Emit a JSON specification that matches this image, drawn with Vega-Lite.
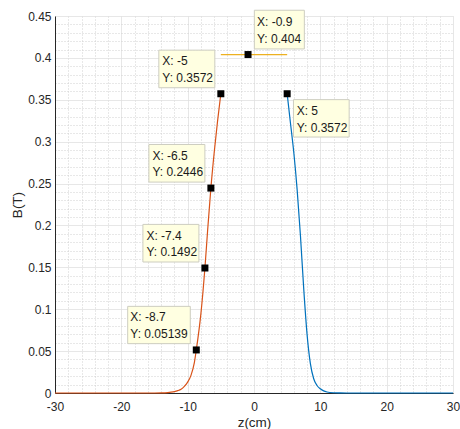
{
  "$schema": "https://vega.github.io/schema/vega-lite/v6.json",
  "width": 398,
  "height": 377,
  "autosize": {"type": "none"},
  "padding": {"left": 55, "top": 16, "right": 7, "bottom": 36},
  "background": "white",
  "config": {"view": {"stroke": null}, "font": "Liberation Sans"},
  "datasets": {
    "curves": [
      {"z": -30, "B": 0, "s": "left"},
      {"z": -15, "B": 0, "s": "left"},
      {"z": -14, "B": 0.0001, "s": "left"},
      {"z": -13, "B": 0.0005, "s": "left"},
      {"z": -12.5, "B": 0.001, "s": "left"},
      {"z": -12, "B": 0.0017, "s": "left"},
      {"z": -11.5, "B": 0.0028, "s": "left"},
      {"z": -11, "B": 0.0045, "s": "left"},
      {"z": -10.5, "B": 0.008, "s": "left"},
      {"z": -10, "B": 0.013, "s": "left"},
      {"z": -9.5, "B": 0.021, "s": "left"},
      {"z": -9, "B": 0.036, "s": "left"},
      {"z": -8.7, "B": 0.05139, "s": "left"},
      {"z": -8, "B": 0.095, "s": "left"},
      {"z": -7.4, "B": 0.1492, "s": "left"},
      {"z": -7, "B": 0.193, "s": "left"},
      {"z": -6.5, "B": 0.2446, "s": "left"},
      {"z": -6, "B": 0.287, "s": "left"},
      {"z": -5.5, "B": 0.324, "s": "left"},
      {"z": -5, "B": 0.3572, "s": "left"},
      {"z": 5, "B": 0.3572, "s": "right"},
      {"z": 5.5, "B": 0.322, "s": "right"},
      {"z": 6, "B": 0.287, "s": "right"},
      {"z": 6.5, "B": 0.243, "s": "right"},
      {"z": 7, "B": 0.188, "s": "right"},
      {"z": 7.5, "B": 0.124, "s": "right"},
      {"z": 8, "B": 0.07, "s": "right"},
      {"z": 8.5, "B": 0.035, "s": "right"},
      {"z": 9, "B": 0.017, "s": "right"},
      {"z": 9.5, "B": 0.009, "s": "right"},
      {"z": 10, "B": 0.005, "s": "right"},
      {"z": 10.5, "B": 0.0025, "s": "right"},
      {"z": 11, "B": 0.0012, "s": "right"},
      {"z": 12, "B": 0.0003, "s": "right"},
      {"z": 13, "B": 0.0001, "s": "right"},
      {"z": 14, "B": 0, "s": "right"},
      {"z": 30, "B": 0, "s": "right"},
      {"z": -5, "B": 0.404, "s": "flat"},
      {"z": 5, "B": 0.404, "s": "flat"}
    ],
    "tips": [
      {"z": -0.9, "B": 0.404, "label": "X: -0.9\nY: 0.404"},
      {"z": -5, "B": 0.3572, "label": "X: -5\nY: 0.3572"},
      {"z": 5, "B": 0.3572, "label": "X: 5\nY: 0.3572"},
      {"z": -6.5, "B": 0.2446, "label": "X: -6.5\nY: 0.2446"},
      {"z": -7.4, "B": 0.1492, "label": "X: -7.4\nY: 0.1492"},
      {"z": -8.7, "B": 0.05139, "label": "X: -8.7\nY: 0.05139"}
    ]
  },
  "encoding": {
    "x": {
      "field": "z",
      "type": "quantitative",
      "scale": {"domain": [-30, 30], "nice": false},
      "axis": {
        "title": "z(cm)",
        "values": [-30, -28, -26, -24, -22, -20, -18, -16, -14, -12, -10, -8, -6, -4, -2, 0, 2, 4, 6, 8, 10, 12, 14, 16, 18, 20, 22, 24, 26, 28, 30],
        "labelExpr": "datum.value % 10 === 0 ? '' + datum.value : ''",
        "labelOverlap": false,
        "labelFlush": false,
        "grid": true,
        "gridColor": {"condition": {"test": "datum.value % 10 === 0", "value": "#DEDEDE"}, "value": "#D0D0D0"},
        "gridDash": {"condition": {"test": "datum.value % 10 === 0", "value": [1, 0]}, "value": [1, 2]},
        "ticks": false,
        "domainColor": "#262626",
        "labelFont": "Liberation Sans",
        "labelFontSize": 12,
        "labelColor": "#262626",
        "labelPadding": 8,
        "titleFont": "Liberation Sans",
        "titleFontSize": 13.5,
        "titleFontWeight": "normal",
        "titleColor": "#262626",
        "titleX": 199,
        "titleY": 33,
        "titleAlign": "center",
        "titleBaseline": "alphabetic"
      }
    },
    "y": {
      "field": "B",
      "type": "quantitative",
      "scale": {"domain": [0, 0.45], "nice": false},
      "axis": {
        "title": "B(T)",
        "values": [0, 0.01, 0.02, 0.03, 0.04, 0.05, 0.06, 0.07, 0.08, 0.09, 0.1, 0.11, 0.12, 0.13, 0.14, 0.15, 0.16, 0.17, 0.18, 0.19, 0.2, 0.21, 0.22, 0.23, 0.24, 0.25, 0.26, 0.27, 0.28, 0.29, 0.3, 0.31, 0.32, 0.33, 0.34, 0.35, 0.36, 0.37, 0.38, 0.39, 0.4, 0.41, 0.42, 0.43, 0.44, 0.45],
        "labelExpr": "round(datum.value * 100) % 5 === 0 ? format(datum.value, '~g') : ''",
        "labelOverlap": false,
        "labelFlush": false,
        "grid": true,
        "gridColor": {"condition": {"test": "round(datum.value * 100) % 5 === 0", "value": "#DEDEDE"}, "value": "#D0D0D0"},
        "gridDash": {"condition": {"test": "round(datum.value * 100) % 5 === 0", "value": [1, 0]}, "value": [1, 2]},
        "ticks": false,
        "domainColor": "#262626",
        "labelFont": "Liberation Sans",
        "labelFontSize": 12,
        "labelColor": "#262626",
        "labelPadding": 4,
        "titleFont": "Liberation Sans",
        "titleFontSize": 13.5,
        "titleFontWeight": "normal",
        "titleColor": "#262626",
        "titleX": -34,
        "titleY": 188.5,
        "titleAlign": "center",
        "titleBaseline": "alphabetic"
      }
    }
  },
  "layer": [
    {
      "data": {"name": "curves"},
      "mark": {"type": "line", "strokeWidth": 1.2, "interpolate": "monotone"},
      "encoding": {
        "color": {
          "field": "s",
          "type": "nominal",
          "scale": {"domain": ["left", "right", "flat"], "range": ["#D95319", "#0072BD", "#EDB120"]},
          "legend": null
        }
      }
    },
    {
      "data": {"name": "tips"},
      "transform": [{"filter": {"field": "z", "oneOf": [-5, -6.5, -7.4]}}],
      "mark": {"type": "rect", "fill": "#FFFFE1", "stroke": "#CDCDC0", "strokeWidth": 1, "xOffset": -62, "x2Offset": -6, "yOffset": -43.6, "y2Offset": -6},
      "encoding": {"x2": {"field": "z"}, "y2": {"field": "B"}}
    },
    {
      "data": {"name": "tips"},
      "transform": [{"filter": {"field": "z", "oneOf": [-8.7]}}],
      "mark": {"type": "rect", "fill": "#FFFFE1", "stroke": "#CDCDC0", "strokeWidth": 1, "xOffset": -68.6, "x2Offset": -6, "yOffset": -43.6, "y2Offset": -6.3},
      "encoding": {"x2": {"field": "z"}, "y2": {"field": "B"}}
    },
    {
      "data": {"name": "tips"},
      "transform": [{"filter": {"field": "z", "oneOf": [-0.9]}}],
      "mark": {"type": "rect", "fill": "#FFFFE1", "stroke": "#CDCDC0", "strokeWidth": 1, "xOffset": 6.3, "x2Offset": 56.3, "yOffset": -44.3, "y2Offset": -5.6},
      "encoding": {"x2": {"field": "z"}, "y2": {"field": "B"}}
    },
    {
      "data": {"name": "tips"},
      "transform": [{"filter": {"field": "z", "oneOf": [5]}}],
      "mark": {"type": "rect", "fill": "#FFFFE1", "stroke": "#CDCDC0", "strokeWidth": 1, "xOffset": 6.3, "x2Offset": 62, "yOffset": 5.9, "y2Offset": 43.3},
      "encoding": {"x2": {"field": "z"}, "y2": {"field": "B"}}
    },
    {
      "data": {"name": "tips"},
      "mark": {"type": "point", "shape": "square", "filled": true, "color": "black", "size": 49, "opacity": 1}
    },
    {
      "data": {"name": "tips"},
      "transform": [{"filter": {"field": "z", "oneOf": [-5, -6.5, -7.4]}}],
      "mark": {"type": "text", "align": "left", "baseline": "top", "lineBreak": "\n", "lineHeight": 16.8, "fontSize": 12, "font": "Liberation Sans", "color": "#1A1A1A", "dx": -58.5, "dy": -37.5},
      "encoding": {"text": {"field": "label"}}
    },
    {
      "data": {"name": "tips"},
      "transform": [{"filter": {"field": "z", "oneOf": [-8.7]}}],
      "mark": {"type": "text", "align": "left", "baseline": "top", "lineBreak": "\n", "lineHeight": 16.8, "fontSize": 12, "font": "Liberation Sans", "color": "#1A1A1A", "dx": -66, "dy": -37.5},
      "encoding": {"text": {"field": "label"}}
    },
    {
      "data": {"name": "tips"},
      "transform": [{"filter": {"field": "z", "oneOf": [-0.9]}}],
      "mark": {"type": "text", "align": "left", "baseline": "top", "lineBreak": "\n", "lineHeight": 16.8, "fontSize": 12, "font": "Liberation Sans", "color": "#1A1A1A", "dx": 9, "dy": -37.5},
      "encoding": {"text": {"field": "label"}}
    },
    {
      "data": {"name": "tips"},
      "transform": [{"filter": {"field": "z", "oneOf": [5]}}],
      "mark": {"type": "text", "align": "left", "baseline": "top", "lineBreak": "\n", "lineHeight": 16.8, "fontSize": 12, "font": "Liberation Sans", "color": "#1A1A1A", "dx": 9.5, "dy": 12},
      "encoding": {"text": {"field": "label"}}
    }
  ]
}
